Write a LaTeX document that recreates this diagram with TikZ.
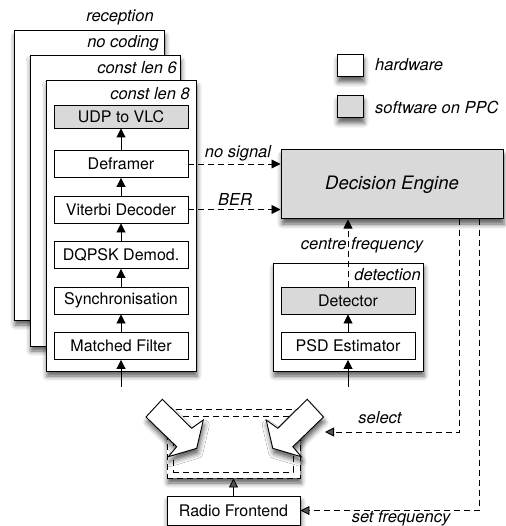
\documentclass[tikz,border=0pt]{standalone}
\usepackage{fontspec}
\setmainfont{TeX Gyre Heros}
\usetikzlibrary{arrows.meta,shadows.blur}
\begin{document}
\begin{tikzpicture}[x=1pt,y=-1pt,
  every node/.style={font=\fontsize{16}{19}\selectfont},
  shad/.style={blur shadow={shadow xshift=1pt, shadow yshift=-5pt, shadow blur radius=5pt, shadow opacity=65}},
  box/.style={draw, line width=0.9pt, fill=white, minimum width=134pt, minimum height=27pt, inner sep=0pt},
  soft/.style={box, fill=gray!30},
  frame/.style={draw, line width=1pt, fill=white, inner sep=0pt, shad},
  lbl/.style={font=\fontsize{16.5}{19}\selectfont\itshape, inner sep=0pt},
  arr/.style={line width=0.9pt, -{Triangle[length=9pt,width=9pt]}},
  darr/.style={arr, dash pattern=on 6pt off 4pt},
]
\path[use as bounding box] (0,0) rectangle (505,526);

% stacked frames
\node[frame, minimum width=150pt, minimum height=289pt] (fnc) at (89,175.5) {};
\node[lbl, anchor=east] (lnc) at (159,43) {no coding};
\node[frame, minimum width=150pt, minimum height=290pt] (f6) at (105,201) {};
\node[lbl, anchor=east] (l6) at (177,68) {const len 6};
\node[frame, minimum width=150pt, minimum height=290pt] (f8) at (121,226) {};
\node[lbl, anchor=east] (l8) at (190,94) {const len 8};
\node[lbl] (rec) at (120,17) {reception};

% reception chain
\node[soft, minimum height=23pt] (udp) at (121,116.5) {UDP to VLC};
\node[box] (def) at (121,164) {Deframer};
\node[box] (vit) at (121,209.5) {Viterbi Decoder};
\node[box] (dq) at (121,255) {DQPSK Demod.};
\node[box] (syn) at (121,300.5) {Synchronisation};
\node[box] (mf) at (121,346) {Matched Filter};
\draw[arr] (def) -- (udp);
\draw[arr] (vit) -- (def);
\draw[arr] (dq) -- (vit);
\draw[arr] (syn) -- (dq);
\draw[arr] (mf) -- (syn);
\coordinate (inA) at (121,387);
\draw[arr] (inA) -- (mf);

% detection
\node[frame, minimum width=150pt, minimum height=108pt] (fdet) at (348,317) {};
\node[lbl, anchor=east] (ldet) at (421,275) {detection};
\node[soft] (det) at (348,300.5) {Detector};
\node[box] (psd) at (348,346) {PSD Estimator};
\draw[arr] (psd) -- (det);
\coordinate (inB) at (348,387);
\draw[arr] (inB) -- (psd);

% decision engine
\node[draw, line width=1pt, fill=gray!30, minimum width=222pt, minimum height=69pt, inner sep=0pt, shad,
      font=\fontsize{18.5}{22}\selectfont\itshape] (de) at (392,184.5) {Decision Engine};

\draw[darr] (def.east) -- (def.east -| de.west);
\node[lbl] (lns) at (238,153) {no signal};
\draw[darr] (vit.east) -- (vit.east -| de.west);
\node[lbl] (lber) at (235,199) {BER};
\draw[darr] (det.north) -- (det.north |- de.south);
\node[lbl] (lcf) at (362,245) {centre frequency};

% legend
\node[draw, line width=1pt, fill=white, minimum width=26pt, minimum height=22pt, inner sep=0pt, shad] (lh) at (350,66) {};
\node[lbl, anchor=west] (lhw) at (375,65) {hardware};
\node[draw, line width=1pt, fill=gray!30, minimum width=26pt, minimum height=22pt, inner sep=0pt, shad] (ls) at (350,107) {};
\node[lbl, anchor=west] (lsw) at (375,107) {software on PPC};

% switch
\node[draw, line width=0.9pt, dash pattern=on 6pt off 4pt, fill=white, minimum width=133pt, minimum height=69pt, inner sep=0pt, shad] (sw) at (233.5,443.5) {};
\node[draw, line width=0.9pt, dash pattern=on 6pt off 4pt, minimum width=120pt, minimum height=56pt, inner sep=0pt] (swi) at (233,444) {};
\filldraw[fill=white, line width=0.9pt, line join=miter, shad] (146,417) -- (162.3,399.3) -- (191.7,428.3) -- (203.3,420) -- (196.7,448.3) -- (168.3,456.7) -- (176.7,446.7) -- cycle;
\filldraw[fill=white, line width=0.9pt, line join=miter, shad] (323.5,417) -- (307.2,399.3) -- (277.8,428.3) -- (266.2,420) -- (272.8,448.3) -- (301.2,456.7) -- (292.8,446.7) -- cycle;

% radio frontend
\node[box, minimum width=133pt, minimum height=29pt, shad] (rf) at (233.5,510.5) {Radio Frontend};
\draw[arr] (rf) -- (sw);

% control lines
\coordinate (selEnd) at (325,432);
\draw[darr] ([xshift=67pt]de.south) |- (selEnd);
\node[lbl] (lsel) at (380,418) {select};
\draw[darr] ([xshift=87pt]de.south) |- (rf.east);
\node[lbl] (lsf) at (401,518) {set frequency};
\end{tikzpicture}
\end{document}
